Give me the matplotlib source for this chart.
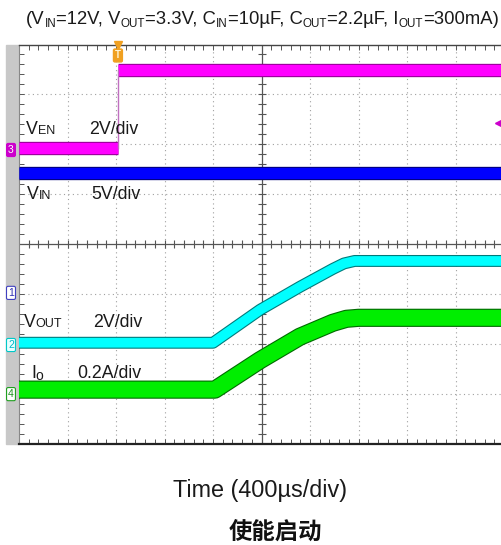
import numpy as np
import matplotlib
matplotlib.use("Agg")
import matplotlib.pyplot as plt
import matplotlib.patheffects as pe
from matplotlib.patches import Rectangle

# ---------------- data (in scope divisions) ----------------
ven_t = [0.0, 2.04, 2.04, 10.0]
ven_v = [5.925, 5.925, 7.48, 7.48]

vin_t = [0.0, 10.0]
vin_v = [5.42, 5.42]

vout_t = [0.0, 4.0, 4.97, 5.79, 6.47, 6.7, 6.92, 10.0]
vout_v = [2.02, 2.02, 2.68, 3.14, 3.50, 3.61, 3.66, 3.66]

io_t = [0.0, 4.04, 4.97, 5.79, 6.47, 6.75, 7.0, 10.0]
io_v = [1.08, 1.08, 1.67, 2.14, 2.42, 2.50, 2.52, 2.52]

ch_markers = ["3", "1", "2", "4"]
ch_marker_y = [5.885, 3.02, 1.975, 0.99]

title_parts = [("(V", 0), ("IN", 1), ("=12V, V", 0), ("OUT", 1), ("=3.3V, C", 0),
               ("IN", 1), ("=10µF, C", 0), ("OUT", 1), ("=2.2µF, I", 0), ("OUT", 1),
               ("=300mA)", 0)]
xlabel = "Time (400µs/div)"
caption = "使能启动"

# ---------------- figure ----------------
W, H = 502, 545
fig = plt.figure(figsize=(W / 100, H / 100), dpi=100)
fig.patch.set_facecolor("white")
FONT = "Liberation Sans"

L, R, T, B = 19, 504, 44.5, 443.5
ax = fig.add_axes([L / W, 1 - B / H, (R - L) / W, (B - T) / H])
ax.set_xlim(0, 10)
ax.set_ylim(0, 8)
ax.set_facecolor("white")
ax.spines["right"].set_visible(False)
ax.spines["top"].set_color("#444444")
ax.spines["top"].set_linewidth(1.0)
ax.spines["bottom"].set_color("#222222")
ax.spines["bottom"].set_linewidth(1.6)
ax.spines["left"].set_color("#888888")
ax.spines["left"].set_linewidth(0.8)
ax.set_xticks([])
ax.set_yticks([])
ax.set_xticks(np.arange(0, 10.01, 0.2), minor=True)
ax.set_yticks(np.arange(0, 8.01, 0.2), minor=True)
ax.tick_params(which="minor", direction="in", length=3.5, width=0.7, color="#555555",
               top=True, bottom=True, left=True, right=False,
               labelbottom=False, labelleft=False)

# dotted grid
for gx in range(1, 10):
    if gx != 5:
        ax.axvline(gx, color="#a0a0a0", lw=0.8, ls=(0, (1, 3)), zorder=1)
for gy in range(1, 8):
    if gy != 4:
        ax.axhline(gy, color="#a0a0a0", lw=0.8, ls=(0, (1, 3)), zorder=1)
# center cross with ticks
ax.axhline(4, color="#555555", lw=0.9, zorder=1)
ax.axvline(5, color="#555555", lw=0.9, zorder=1)
tx = np.arange(0.2, 10, 0.2)
ty = np.arange(0.2, 8, 0.2)
ax.plot(tx, np.full_like(tx, 4.0), ls="", marker="|", ms=6, mew=0.8, color="#555555", zorder=1)
ax.plot(np.full_like(ty, 5.0), ty, ls="", marker="_", ms=6, mew=0.8, color="#555555", zorder=1)

# gray bar on left
ax.add_patch(Rectangle((-13 / 48.5, 0), 12 / 48.5, 8, transform=ax.transData,
                       color="#c8c8c8", clip_on=False, zorder=0))


def trace(t, v, color, edge, lw):
    ax.plot(t, v, color=color, lw=lw, solid_capstyle="butt", solid_joinstyle="round",
            path_effects=[pe.Stroke(linewidth=lw + 1.6, foreground=edge), pe.Normal()],
            zorder=3)


# traces
trace(ven_t[:2], ven_v[:2], "#ff00ff", "#990099", 8.0)
trace(ven_t[2:], ven_v[2:], "#ff00ff", "#990099", 8.0)
ax.plot(ven_t[1:3], ven_v[1:3], color="#c070c0", lw=1.0, zorder=3)
trace(vin_t, vin_v, "#0000ff", "#000080", 8.0)
trace(vout_t, vout_v, "#00ffff", "#007b7b", 7.0)
trace(io_t, io_v, "#00ee00", "#006a00", 11.5)

# channel markers on left
mstyles = {
    "3": dict(fc="#cc00cc", ec="#cc00cc", tc="white"),
    "1": dict(fc="white", ec="#4040c0", tc="#3030b0"),
    "2": dict(fc="#e8ffff", ec="#00c8c8", tc="#00b8c8"),
    "4": dict(fc="white", ec="#20a020", tc="#209020"),
}
for m, yv in zip(ch_markers, ch_marker_y):
    st = mstyles[m]
    ax.text(-0.0165, yv, m, transform=ax.get_yaxis_transform(), ha="center", va="center",
            fontsize=7.5, color=st["tc"], family=FONT, clip_on=False, zorder=5,
            bbox=dict(boxstyle="round,pad=0.15", fc=st["fc"], ec=st["ec"], lw=0.8))

# trigger marker at top
ax.plot([ven_t[1]], [8.0], marker="v", ms=6, color="#f0a020", clip_on=False, zorder=6)
ax.text(ven_t[1], 7.78, "T", ha="center", va="center", fontsize=7, color="#fff3d0",
        family=FONT, fontweight="bold", zorder=6,
        bbox=dict(boxstyle="round,pad=0.15", fc="#f0a020", ec="#f0a020"))
# magenta level arrow at right
ax.plot([9.88], [6.43], marker="<", ms=4.5, color="#cc00cc", zorder=6)

fig.canvas.draw()
renderer = fig.canvas.get_renderer()


def runs(x_px, y_px, parts, **kw):
    """Draw a sequence of (text, size, dy_px) runs at baseline y_px, starting at x_px."""
    x = x_px
    made = []
    for txt, size, dy in parts:
        t = fig.text(x / W, 1 - (y_px - dy) / H, txt, fontsize=size, ha="left",
                     va="baseline", family=FONT, color="#1a1a1a", **kw)
        made.append(t)
        bb = t.get_window_extent(renderer)
        x += bb.width
    return x, made


# title (centered)
tparts = [(s, 8.4 if sub else 13.3, -3 if sub else 0) for s, sub in title_parts]
xend, made = runs(0, 24, tparts)
for t in made:
    t.remove()
runs(262.5 - xend / 2, 24, tparts)

# trace labels
runs(26, 134, [("V", 12.8, 0), ("EN", 9.0, 0)])
runs(89, 134, [("2V/div", 12.8, 0)])
runs(27, 199, [("V", 12.8, 0), ("IN", 9.0, 0)])
runs(91, 199, [("5V/div", 12.8, 0)])
runs(24, 327, [("V", 12.8, 0), ("OUT", 9.0, 0)])
runs(93, 327, [("2V/div", 12.8, 0)])
runs(31, 378, [("I", 12.8, 0), ("o", 10.0, -2)])
runs(77, 378, [("0.2A/div", 12.8, 0)])

# x label and caption
fig.text(260 / W, 1 - 497 / H, xlabel, ha="center", va="baseline", fontsize=16.8,
         family=FONT, color="#1a1a1a")
fig.text(275 / W, 1 - 539 / H, caption, ha="center", va="baseline", fontsize=16.8,
         family=["Noto Sans CJK SC", "DejaVu Sans"], fontweight="bold", color="#111111")

fig.savefig("out.png", dpi=100)
